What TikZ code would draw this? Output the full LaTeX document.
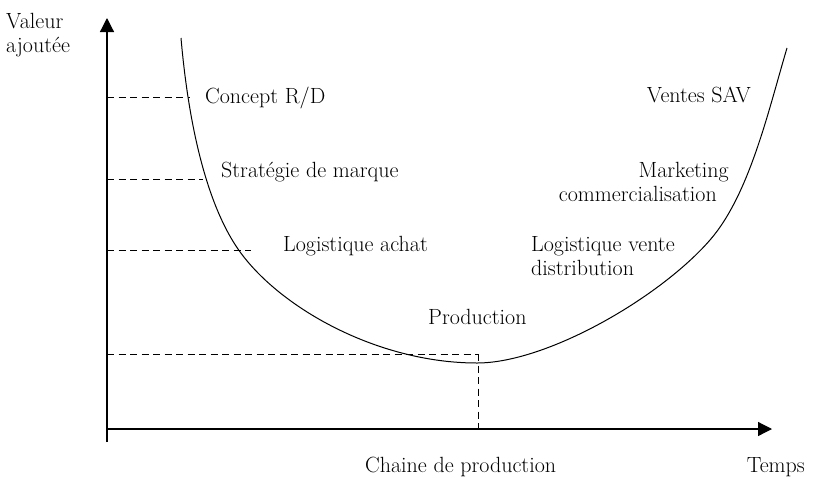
\documentclass[tikz,border=0pt]{standalone}
\usetikzlibrary{arrows.meta}
\begin{document}
\begin{tikzpicture}[x=1pt,y=-1pt,
  lbl/.style={anchor=base west,inner sep=0pt,font=\fontsize{22}{26}\selectfont},
  rlbl/.style={lbl,anchor=base east},
  axisline/.style={line width=1.2pt},
  arrowtip/.style={-{Triangle[length=14pt,width=14pt]}},
  guide/.style={line width=0.9pt,dash pattern=on 7pt off 4.5pt},
  curveline/.style={line width=1pt}]
\useasboundingbox (0,0) rectangle (813,477);
% axes
\coordinate (o) at (107,429);
\coordinate (ybot) at (107,442);
\coordinate (ytop) at (107,18);
\coordinate (xend) at (772,429);
\draw[axisline,arrowtip] (ybot) -- (ytop);
\draw[axisline,arrowtip] (o) -- (xend);
% curve
\coordinate (ctop) at (181,38);
\coordinate (cb) at (238,249);
\coordinate (cmin) at (477,363);
\coordinate (cd) at (710,240);
\coordinate (cend) at (787,48);
\draw[curveline] (ctop) .. controls (189,130) and (208,205.5) .. (cb)
  .. controls (278,307) and (377,363) .. (cmin)
  .. controls (547,363) and (660,297.5) .. (cd)
  .. controls (750,194) and (769,108) .. (cend);
% guide lines
\coordinate (a1) at (107,97);  \coordinate (c1) at (190,97);
\coordinate (a2) at (107,179); \coordinate (c2) at (203,179);
\coordinate (a3) at (107,250); \coordinate (c3) at (251,250);
\coordinate (a4) at (107,354); \coordinate (c4) at (478,354);
\coordinate (t4) at (478,433);
\draw[guide] (a1) -- (c1);
\draw[guide] (a2) -- (c2);
\draw[guide] (a3) -- (c3);
\draw[guide] (a4) -- (c4);
\draw[guide] (c4) -- (t4);
% labels
\node[lbl] (v1) at (6,28) {Valeur};
\node[lbl] (v2) at (6,52) {ajoutée};
\node[lbl] (l1) at (205,103) {Concept R/D};
\node[lbl] (l2) at (221,177) {Stratégie de marque};
\node[lbl] (l3) at (283,251) {Logistique achat};
\node[lbl] (l4) at (428,324) {Production};
\node[rlbl] (r1) at (751,102) {Ventes SAV};
\node[rlbl] (r2) at (729,177) {Marketing};
\node[rlbl] (r3) at (717,201) {commercialisation};
\node[lbl] (r4) at (531,251) {Logistique vente};
\node[lbl] (r5) at (531,275) {distribution};
\node[lbl] (b1) at (365,472) {Chaine de production};
\node[rlbl] (b2) at (805,472) {Temps};
\end{tikzpicture}
\end{document}
